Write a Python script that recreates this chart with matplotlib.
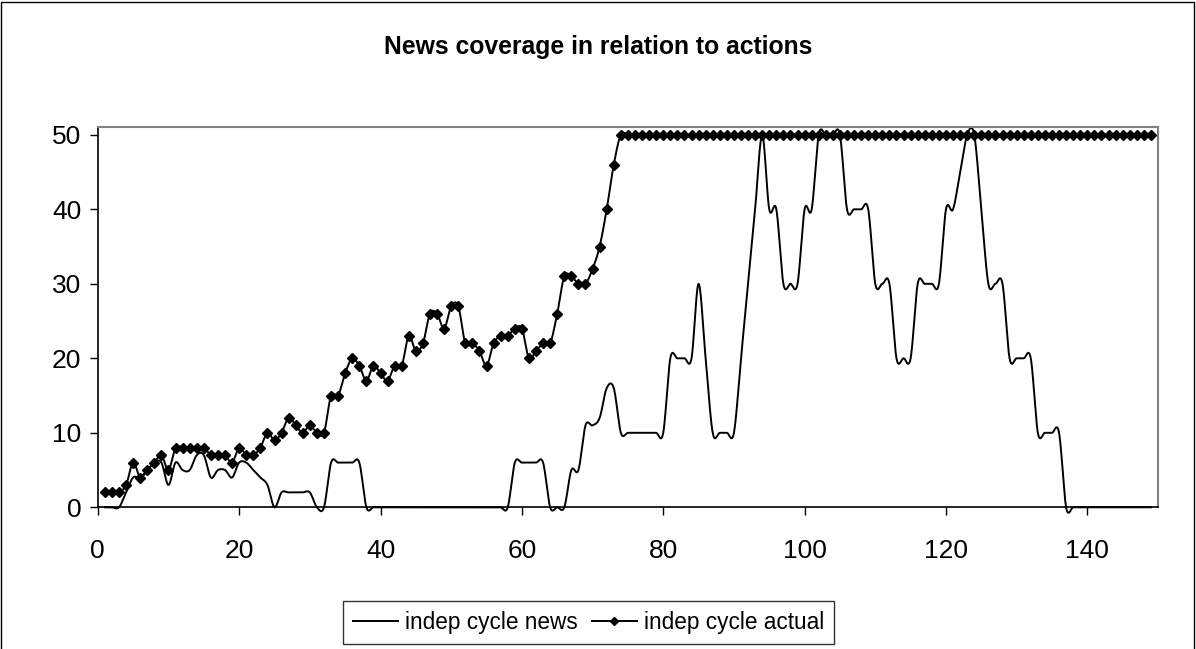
import numpy as np
import matplotlib
matplotlib.use("Agg")
import matplotlib.pyplot as plt
from matplotlib.lines import Line2D
from matplotlib.patches import Rectangle

plt.rcParams['font.family'] = ['Liberation Sans', 'DejaVu Sans']

title = "News coverage in relation to actions"
series_names = ["indep cycle news", "indep cycle actual"]

x_values = list(range(1, 150))

news = ([0, 0, 0, 2, 4, 4, 5, 6, 6, 3,
         6, 5, 5, 7, 7, 4, 5, 5, 4, 6,
         6, 5, 4, 3, 0, 2, 2, 2, 2, 2,
         0, 0, 6, 6, 6, 6, 6, 0]
        + [0] * 20
        + [6, 6, 6, 6, 6, 0, 0, 0, 5, 5,
           11, 11, 12, 16, 16]
        + [10] * 7
        + [20, 20, 20, 20, 30, 20, 10, 10, 10, 10,
           20, 30, 40, 50, 40, 40, 30, 30, 30, 40,
           40, 50, 50, 50, 50, 40, 40, 40, 40, 30,
           30, 30, 20, 20, 20, 30, 30, 30, 30, 40,
           40, 45, 50, 50, 40, 30, 30, 30, 20, 20,
           20, 20, 10, 10, 10, 10]
        + [0] * 13)

actual = ([2, 2, 2, 3, 6, 4, 5, 6, 7, 5,
           8, 8, 8, 8, 8, 7, 7, 7, 6, 8,
           7, 7, 8, 10, 9, 10, 12, 11, 10, 11,
           10, 10, 15, 15, 18, 20, 19, 17, 19, 18,
           17, 19, 19, 23, 21, 22, 26, 26, 24, 27,
           27, 22, 22, 21, 19, 22, 23, 23, 24, 24,
           20, 21, 22, 22, 26, 31, 31, 30, 30, 32,
           35, 40, 46]
          + [50] * 76)

x_ticks = [0, 20, 40, 60, 80, 100, 120, 140]
y_ticks = [0, 10, 20, 30, 40, 50]


def smooth(xs, ys, n=16):
    xs = np.asarray(xs, float)
    ys = np.asarray(ys, float)
    px = np.concatenate([[xs[0]], xs, [xs[-1]]])
    py = np.concatenate([[ys[0]], ys, [ys[-1]]])
    out_x, out_y = [], []
    t = np.linspace(0, 1, n, endpoint=False)
    for i in range(1, len(px) - 2):
        b0x, b3x = px[i], px[i + 1]
        b0y, b3y = py[i], py[i + 1]
        b1x = px[i] + (px[i + 1] - px[i - 1]) / 6
        b1y = py[i] + (py[i + 1] - py[i - 1]) / 6
        b2x = px[i + 1] - (px[i + 2] - px[i]) / 6
        b2y = py[i + 1] - (py[i + 2] - py[i]) / 6
        c0 = (1 - t) ** 3
        c1 = 3 * (1 - t) ** 2 * t
        c2 = 3 * (1 - t) * t ** 2
        c3 = t ** 3
        out_x.append(c0 * b0x + c1 * b1x + c2 * b2x + c3 * b3x)
        out_y.append(c0 * b0y + c1 * b1y + c2 * b2y + c3 * b3y)
    out_x.append([xs[-1]])
    out_y.append([ys[-1]])
    return np.concatenate(out_x), np.concatenate(out_y)


W, H = 1196, 649
fig = plt.figure(figsize=(W / 100, H / 100), dpi=100)
ax = fig.add_axes([97.8 / W, 1 - 507.3 / H, (1158 - 97.8) / W, (507.3 - 127) / H])

sx, sy = smooth(x_values, news)
ax.plot(sx, sy, color='black', lw=1.4, solid_joinstyle='round', clip_on=False)
sx2, sy2 = smooth(x_values, actual)
ax.plot(sx2, sy2, color='black', lw=1.4, solid_joinstyle='round', clip_on=False)
ax.plot(x_values, actual, linestyle='none', marker='D', markersize=5.5,
        color='black', clip_on=False)

ax.set_xlim(0, 150)
ax.set_ylim(0, 51.05)
ax.set_xticks(x_ticks)
ax.set_yticks(y_ticks)
ax.tick_params(axis='both', labelsize=19, direction='out', length=6, width=1,
               color='black')
ax.tick_params(axis='x', pad=17)
ax.tick_params(axis='y', pad=6)
for s in ['top', 'right']:
    ax.spines[s].set_color('#808080')
    ax.spines[s].set_linewidth(1.5)
for s in ['left', 'bottom']:
    ax.spines[s].set_color('black')
    ax.spines[s].set_linewidth(1.2)
ax.set_zorder(1)

fig.text(598 / W, 1 - 47 / H, title, ha='center', va='center',
         fontsize=17.8, fontweight='bold')

handles = [Line2D([], [], color='black', lw=1.4),
           Line2D([], [], color='black', lw=1.4, marker='D', markersize=4.5)]
leg = fig.legend(handles, series_names, loc='upper left',
                 bbox_to_anchor=(343 / W, 1 - 601 / H), ncol=2, fontsize=16.3,
                 frameon=True, fancybox=False, edgecolor='black',
                 handlelength=2.0, handletextpad=0.3, columnspacing=0.6,
                 borderpad=0.45, borderaxespad=0)
leg.get_frame().set_linewidth(1.0)

fig.add_artist(Rectangle((1 / W, -0.05), (W - 3) / W, 1.05 - 1.5 / H,
                         transform=fig.transFigure, fill=False,
                         edgecolor='black', lw=1.0))

fig.savefig('out.png', dpi=100)
